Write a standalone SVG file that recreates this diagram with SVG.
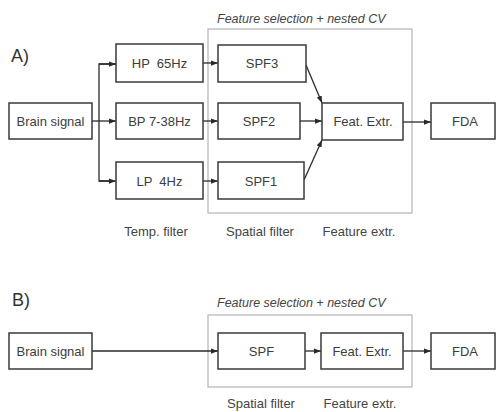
<svg xmlns="http://www.w3.org/2000/svg" width="497" height="412" viewBox="0 0 497 412">
  <defs>
    <marker id="arr" viewBox="0 0 8 6" refX="8" refY="3" markerWidth="7" markerHeight="5.5" markerUnits="userSpaceOnUse" orient="auto">
      <path d="M0,0 L8,3 L0,6 Z" fill="#2a2a2a"/>
    </marker>
  </defs>
  <style>
    .box { fill: #ffffff; stroke: #3a3a3a; stroke-width: 1.5; }
    .group { fill: none; stroke: #b4b4b4; stroke-width: 1.2; }
    .lbl { font-family: "Liberation Sans", Arial, sans-serif; font-size: 13px; fill: #3c3c3c; text-anchor: middle; dominant-baseline: central; }
    .cap { font-family: "Liberation Sans", Arial, sans-serif; font-size: 13px; fill: #444; text-anchor: middle; }
    .ital { font-family: "Liberation Sans", Arial, sans-serif; font-size: 12.5px; font-style: italic; fill: #444; }
    .tag { font-family: "Liberation Sans", Arial, sans-serif; font-size: 18px; fill: #333; }
    .wire { fill: none; stroke: #2a2a2a; stroke-width: 1.3; }
    .arrow { fill: none; stroke: #2a2a2a; stroke-width: 1.3; marker-end: url(#arr); }
  </style>

  <rect width="497" height="412" fill="#ffffff"/>

  <!-- Panel A -->
  <text class="tag" x="11" y="62">A)</text>
  <rect class="group" x="208" y="29" width="204" height="184"/>
  <text class="ital" x="217" y="23">Feature selection + nested CV</text>

  <g id="connectors-a">
    <line class="arrow" x1="92" y1="121" x2="116" y2="121"/>
    <polyline class="wire" points="116,64 99,64 99,181 110,181"/>
    <line class="arrow" x1="99" y1="64" x2="116" y2="64"/>
    <line class="arrow" x1="99" y1="181" x2="116" y2="181"/>
    <line class="arrow" x1="203" y1="63" x2="218" y2="63"/>
    <line class="arrow" x1="203" y1="121" x2="218" y2="121"/>
    <line class="arrow" x1="203" y1="181" x2="218" y2="181"/>
    <line class="arrow" x1="306" y1="65" x2="322" y2="103"/>
    <line class="arrow" x1="300" y1="121" x2="322" y2="121"/>
    <line class="arrow" x1="304" y1="180" x2="322" y2="140"/>
    <line class="arrow" x1="403" y1="122" x2="431" y2="122"/>
  </g>

  <g id="a-brain">
    <rect class="box" x="9" y="103" width="83" height="36"/>
    <text class="lbl" x="50.5" y="121">Brain signal</text>
  </g>
  <g id="a-hp">
    <rect class="box" x="116" y="44" width="87" height="38"/>
    <text class="lbl" x="159.5" y="63" xml:space="preserve">HP  65Hz</text>
  </g>
  <g id="a-bp">
    <rect class="box" x="116" y="103" width="87" height="36"/>
    <text class="lbl" x="159.5" y="121">BP 7-38Hz</text>
  </g>
  <g id="a-lp">
    <rect class="box" x="116" y="162" width="87" height="37"/>
    <text class="lbl" x="159.5" y="181" xml:space="preserve">LP  4Hz</text>
  </g>
  <g id="a-spf3">
    <rect class="box" x="218" y="45" width="88" height="37"/>
    <text class="lbl" x="262" y="63.5">SPF3</text>
  </g>
  <g id="a-spf2">
    <rect class="box" x="218" y="103" width="82" height="36"/>
    <text class="lbl" x="259" y="121">SPF2</text>
  </g>
  <g id="a-spf1">
    <rect class="box" x="218" y="162" width="86" height="37"/>
    <text class="lbl" x="261" y="181">SPF1</text>
  </g>
  <g id="a-feat">
    <rect class="box" x="322" y="103" width="81" height="37"/>
    <text class="lbl" x="363" y="121.5">Feat. Extr.</text>
  </g>
  <g id="a-fda">
    <rect class="box" x="431" y="103" width="64" height="36"/>
    <text class="lbl" x="465" y="121">FDA</text>
  </g>

  <text class="cap" x="156" y="236">Temp. filter</text>
  <text class="cap" x="260" y="236">Spatial filter</text>
  <text class="cap" x="359" y="236">Feature extr.</text>

  <!-- Panel B -->
  <text class="tag" x="12" y="306">B)</text>
  <rect class="group" x="208" y="315" width="204" height="72"/>
  <text class="ital" x="217" y="307">Feature selection + nested CV</text>

  <g id="connectors-b">
    <line class="arrow" x1="92" y1="351" x2="218" y2="351"/>
    <line class="arrow" x1="305" y1="351" x2="321" y2="351"/>
    <line class="arrow" x1="403" y1="351" x2="431" y2="351"/>
  </g>

  <g id="b-brain">
    <rect class="box" x="9" y="333" width="83" height="36"/>
    <text class="lbl" x="50.5" y="351">Brain signal</text>
  </g>
  <g id="b-spf">
    <rect class="box" x="218" y="333" width="87" height="36"/>
    <text class="lbl" x="261.5" y="351">SPF</text>
  </g>
  <g id="b-feat">
    <rect class="box" x="321" y="333" width="82" height="36"/>
    <text class="lbl" x="362" y="351">Feat. Extr.</text>
  </g>
  <g id="b-fda">
    <rect class="box" x="431" y="333" width="64" height="36"/>
    <text class="lbl" x="465" y="351">FDA</text>
  </g>

  <text class="cap" x="261" y="408">Spatial filter</text>
  <text class="cap" x="360" y="408">Feature extr.</text>
</svg>
